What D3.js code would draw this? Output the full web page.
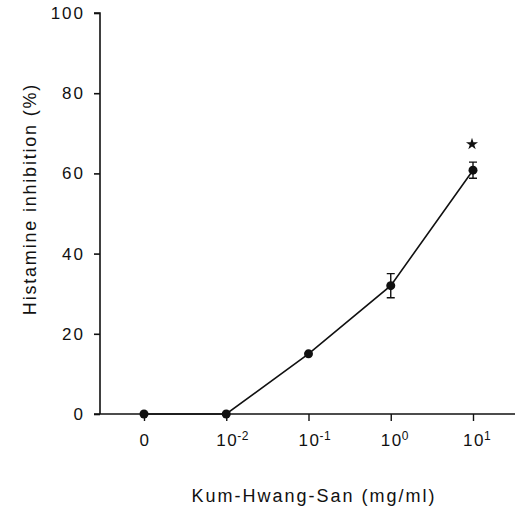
<!DOCTYPE html>
<html><head><meta charset="utf-8">
<script src="https://cdn.jsdelivr.net/npm/d3@7"></script>
<style>body{margin:0;background:#fff}svg{display:block}text{font-family:"Liberation Sans",Arial,sans-serif;fill:#111}</style>
</head><body><svg id="c" width="520" height="509"></svg>
<script>
const categories = ["0", "1e-2", "1e-1", "1e0", "1e1"];
const tickBase = ["0", "10", "10", "10", "10"];
const tickExp = ["", "-2", "-1", "0", "1"];
const values = [0, 0, 15, 32, 60.8];
const errors = [0, 0, 0, 3, 2];
const yTicks = [0, 20, 40, 60, 80, 100];
const sig = [false, false, false, false, true];

const svg = d3.select("#c");
const x = d3.scalePoint().domain(categories).range([144, 473]);
const y = d3.scaleLinear().domain([0, 100]).range([414, 13]);
const ink = "#111";

// y axis
const ya = svg.append("g").attr("transform", "translate(100,0)")
  .call(d3.axisLeft(y).tickValues(yTicks).tickSize(6).tickPadding(9));
ya.select(".domain").attr("stroke", ink).attr("stroke-width", 1.6).attr("d", "M0,414V13H-6");
ya.selectAll(".tick line").attr("stroke", ink).attr("stroke-width", 1.6);
ya.selectAll(".tick text").attr("font-size", 17).attr("fill", ink)
  .style("font-family", '"Liberation Sans",Arial,sans-serif').style("letter-spacing", "2px");

// x axis
const xa = svg.append("g").attr("transform", "translate(0,414)")
  .call(d3.axisBottom(x).tickSize(7).tickFormat(""));
xa.select(".domain").attr("stroke", ink).attr("stroke-width", 1.6).attr("d", "M94,0H515");
xa.selectAll(".tick line").attr("stroke", ink).attr("stroke-width", 1.4);

const lbl = svg.append("g");
categories.forEach((c, i) => {
  const base = lbl.append("text").attr("x", x(c) + 1).attr("y", 446).attr("text-anchor", "middle")
    .attr("font-size", 17).style("letter-spacing", "1.5px").text(tickBase[i]);
  if (tickExp[i]) {
    const w = base.node().getComputedTextLength();
    lbl.append("text").attr("x", x(c) + w / 2).attr("y", 440).attr("font-size", 12)
      .style("letter-spacing", "0.5px").text(tickExp[i]);
  }
});

// line
svg.append("path").datum(categories.map((c, i) => [x(c), y(values[i])]))
  .attr("d", d3.line()).attr("fill", "none").attr("stroke", ink).attr("stroke-width", 1.6);

// error bars
categories.forEach((c, i) => {
  if (!errors[i]) return;
  const cx = x(c), t = y(values[i] + errors[i]), b = y(values[i] - errors[i]);
  svg.append("path").attr("d", `M${cx},${t}V${b}M${cx-4},${t}H${cx+4}M${cx-4},${b}H${cx+4}`)
    .attr("stroke", ink).attr("stroke-width", 1.4).attr("fill", "none");
});

// points
svg.selectAll("circle.p").data(categories).join("circle")
  .attr("cx", d => x(d)).attr("cy", (d, i) => y(values[i])).attr("r", 4.5).attr("fill", ink);

// significance star
categories.forEach((c, i) => {
  if (!sig[i]) return;
  svg.append("path").attr("d", d3.symbol(d3.symbolStar, 45)())
    .attr("transform", `translate(${x(c) - 1},${y(values[i] + errors[i]) - 18})`).attr("fill", ink);
});

// titles
svg.append("text").attr("transform", "translate(36,199) rotate(-90)").attr("text-anchor", "middle")
  .attr("font-size", 18).style("letter-spacing", "1.8px").text("Histamine inhibition (%)");
svg.append("text").attr("x", 314).attr("y", 502).attr("text-anchor", "middle")
  .attr("font-size", 18).style("letter-spacing", "2px").text("Kum-Hwang-San (mg/ml)");
</script></body></html>
